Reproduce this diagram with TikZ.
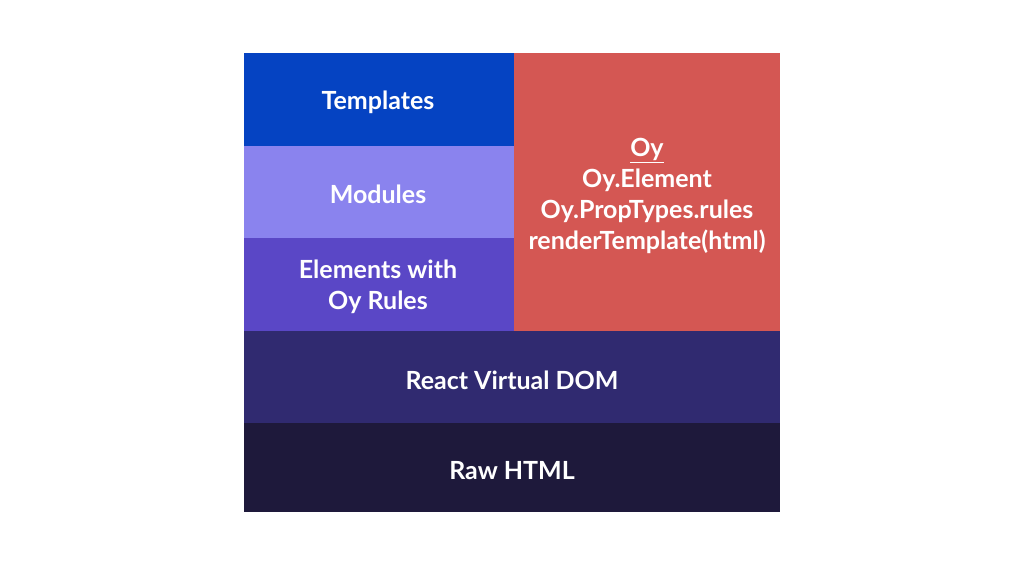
\documentclass[tikz,border=0pt]{standalone}
\usepackage{fontspec}
\setmainfont{Lato}
\definecolor{ctempl}{HTML}{0543C2}
\definecolor{cmod}{HTML}{8A83EE}
\definecolor{celem}{HTML}{5A47C6}
\definecolor{coy}{HTML}{D45753}
\definecolor{creact}{HTML}{302A70}
\definecolor{craw}{HTML}{1E193B}
\begin{document}
\begin{tikzpicture}[x=1pt,y=-1pt,
  lbl/.style={text=white,font=\fontsize{25}{31}\selectfont\bfseries,align=center}]
\useasboundingbox[fill=white] (0,0) rectangle (1024,565);
\fill[ctempl] (244,53) rectangle (514,146);
\fill[cmod] (244,146) rectangle (514,238);
\fill[celem] (244,238) rectangle (514,331);
\fill[coy] (514,53) rectangle (780,331);
\fill[creact] (244,331) rectangle (780,423);
\fill[craw] (244,423) rectangle (780,512);
\node[lbl] (templates) at (378,102) {Templates};
\node[lbl] (modules) at (378,194) {Modules};
\node[lbl] (elements) at (378,287) {Elements with\\Oy Rules};
\node[lbl] (oy) at (647,196) {\underline{Oy}\\Oy.Element\\Oy.PropTypes.rules\\renderTemplate(html)};
\node[lbl] (react) at (512,380) {React Virtual DOM};
\node[lbl] (raw) at (512,471) {Raw HTML};
\end{tikzpicture}
\end{document}
